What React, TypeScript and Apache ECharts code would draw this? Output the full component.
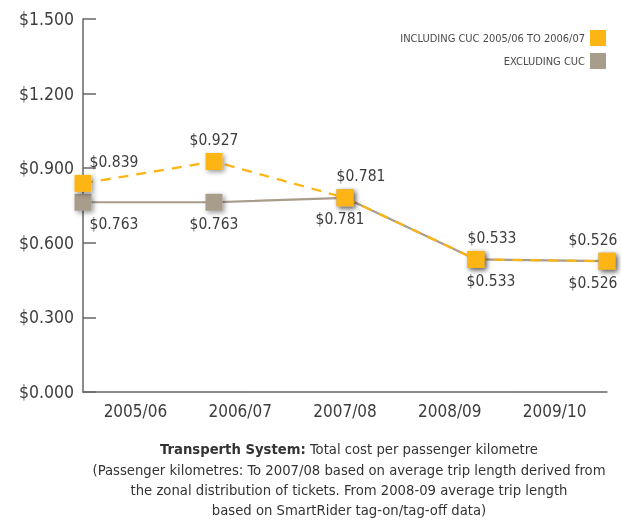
import React, { useEffect, useRef } from "react";
import * as echarts from "echarts";

const categories = ["2005/06", "2006/07", "2007/08", "2008/09", "2009/10"];
const includingCuc = [0.839, 0.927, 0.781, 0.533, 0.526];
const excludingCuc = [0.763, 0.763, 0.781, 0.533, 0.526];
const yTicks = [0, 0.3, 0.6, 0.9, 1.2, 1.5];
const seriesNames = ["INCLUDING CUC 2005/06 TO 2006/07", "EXCLUDING CUC"];
const titleBold = "Transperth System:";
const titleRest = " Total cost per passenger kilometre";
const noteLines = [
  "(Passenger kilometres: To 2007/08 based on average trip length derived from",
  "the zonal distribution of tickets. From 2008-09 average trip length",
  "based on SmartRider tag-on/tag-off data)",
];

const FONT = "'DejaVu Sans Condensed', 'Liberation Sans Narrow', sans-serif";
const ORANGE = "#FDB515";
const GREY = "#A89C8B";
const TEXT = "#3d3d3d";

const incOffsets: [number, number][] = [[31, 0], [0, 0], [16, 0], [16, 0], [-14, 0]];
const excOffsets: [number, number][] = [[31, 0], [0, 0], [-5, 0], [15, 0], [-14, 0]];

export default function App() {
  const ref = useRef<HTMLDivElement>(null);
  useEffect(() => {
    if (!ref.current) return;
    const chart = echarts.init(ref.current, undefined, { renderer: "svg" });
    const shadow = {
      shadowBlur: 5,
      shadowColor: "rgba(0,0,0,0.4)",
      shadowOffsetX: 2,
      shadowOffsetY: 2,
    };
    const labelStyle = {
      show: true,
      fontFamily: FONT,
      fontSize: 15.5,
      color: TEXT,
      formatter: (p: any) => "$" + Number(p.value).toFixed(3),
    };
    chart.setOption({
      animation: false,
      textStyle: { fontFamily: FONT },
      grid: { left: 83, right: 14, top: 19, bottom: 131, containLabel: false },
      title: [
        {
          text: "{b|" + titleBold + "}" + titleRest,
          left: 344,
          top: 436,
          textAlign: "center",
          textStyle: {
            fontFamily: FONT,
            fontSize: 14.7,
            fontWeight: "normal",
            color: "#333",
            rich: { b: { fontFamily: FONT, fontSize: 14.7, fontWeight: "bold", color: "#333" } },
          },
        },
        {
          text: noteLines.join("\n"),
          left: 344,
          top: 454,
          textAlign: "center",
          textStyle: {
            fontFamily: FONT,
            fontSize: 14.7,
            fontWeight: "normal",
            color: "#333",
            lineHeight: 20,
          },
        },
      ],
      legend: {
        orient: "vertical",
        right: 10,
        top: 25,
        align: "right",
        itemWidth: 16,
        itemHeight: 16,
        itemGap: 7,
        data: seriesNames.map((n) => ({ name: n, icon: "rect" })),
        textStyle: { fontFamily: FONT, fontSize: 11, color: "#4a4a4a" },
      },
      xAxis: [
        {
          type: "category",
          data: categories,
          boundaryGap: true,
          axisLine: { lineStyle: { color: "#666", width: 1.5 } },
          axisTick: { inside: true, length: 8, lineStyle: { color: "#666", width: 1.5 } },
          axisLabel: { fontFamily: FONT, fontSize: 17, color: TEXT, margin: 10 },
        },
        {
          type: "category",
          data: categories,
          boundaryGap: false,
          show: false,
        },
      ],
      yAxis: {
        type: "value",
        min: yTicks[0],
        max: yTicks[yTicks.length - 1],
        interval: 0.3,
        splitLine: { show: false },
        axisLine: { show: true, lineStyle: { color: "#666", width: 1.5 } },
        axisTick: { show: true, inside: true, length: 13, lineStyle: { color: "#666", width: 1.5 } },
        axisLabel: {
          fontFamily: FONT,
          fontSize: 17.5,
          color: TEXT,
          margin: 9,
          formatter: (v: number) => "$" + v.toFixed(3),
        },
      },
      series: [
        {
          name: seriesNames[1],
          type: "line",
          xAxisIndex: 1,
          data: excludingCuc.map((v, i) => ({
            value: v,
            label: { position: "bottom", offset: excOffsets[i] },
          })),
          symbol: "rect",
          symbolSize: 17,
          lineStyle: { color: GREY, width: 2.2 },
          itemStyle: { color: GREY, ...shadow },
          label: { ...labelStyle, position: "bottom" },
          z: 2,
        },
        {
          name: seriesNames[0],
          type: "line",
          xAxisIndex: 1,
          data: includingCuc.map((v, i) => ({
            value: v,
            label: { position: "top", offset: incOffsets[i] },
          })),
          symbol: "rect",
          symbolSize: 17,
          lineStyle: { color: ORANGE, width: 2.3, type: [10, 8] },
          itemStyle: { color: ORANGE, ...shadow },
          label: { ...labelStyle, position: "top" },
          z: 3,
        },
      ],
    });
    return () => chart.dispose();
  }, []);
  return (
    <div
      ref={ref}
      style={{ position: "fixed", left: 0, top: 0, width: 621, height: 523 }}
    />
  );
}
